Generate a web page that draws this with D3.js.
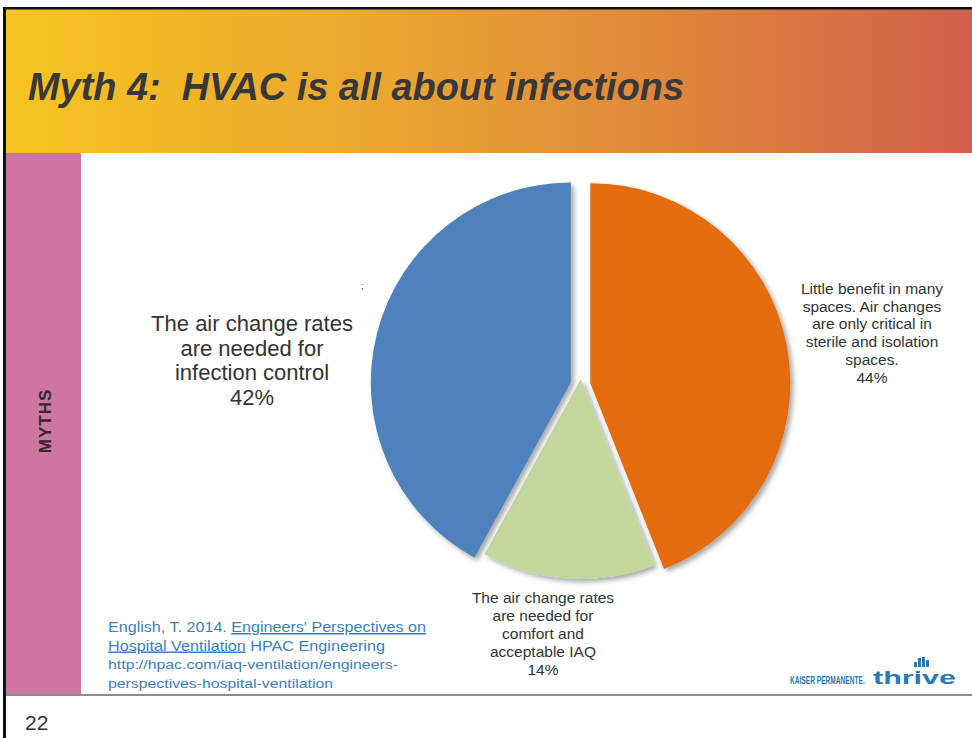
<!DOCTYPE html>
<html>
<head>
<meta charset="utf-8">
<script src="https://cdn.jsdelivr.net/npm/d3@7/dist/d3.min.js"></script>
<style>
  html, body { margin: 0; padding: 0; background: #ffffff; }
  svg { display: block; }
  text { font-family: "Liberation Sans", Arial, sans-serif; }
</style>
</head>
<body>
<svg id="chart" width="972" height="738"></svg>
<script>
// ---------------- DATA ----------------
const title = "Myth 4:  HVAC is all about infections";
const sideLabel = "MYTHS";
const pageNumber = "22";
const categories = [
  "Little benefit in many spaces. Air changes are only critical in sterile and isolation spaces.",
  "The air change rates are needed for comfort and acceptable IAQ",
  "The air change rates are needed for infection control"
];
const values = [44, 14, 42];
const labelLines = [
  ["Little benefit in many", "spaces. Air changes", "are only critical in", "sterile and isolation", "spaces."],
  ["The air change rates", "are needed for", "comfort and", "acceptable IAQ"],
  ["The air change rates", "are needed for", "infection control"]
];
const citationLines = [
  [{t: "English, T. 2014. ", u: false}, {t: "Engineers' Perspectives on", u: true}],
  [{t: "Hospital Ventilation", u: true}, {t: " HPAC Engineering", u: false}],
  [{t: "http://hpac.com/iaq-ventilation/engineers-", u: false}],
  [{t: "perspectives-hospital-ventilation", u: false}]
];

// ---------------- STYLE ----------------
const sliceColors = ["#e46c0a", "#c3d69b", "#4f81bd"];
const explode = [10, -6, 10];
const pieCenter = {x: 580.5, y: 385};
const radius = 200;
const labelStyle = [
  {x: 872, y: 294, size: 15.5, step: 17.7},
  {x: 543, y: 602.5, size: 15.5, step: 18},
  {x: 252, y: 331, size: 22, step: 24.7}
];

const svg = d3.select("#chart");
const defs = svg.append("defs");

const grad = defs.append("linearGradient").attr("id", "hdr").attr("x1", "0").attr("x2", "1").attr("y1", "0").attr("y2", "0");
[["0%", "#f6c421"], ["40%", "#eaa532"], ["70%", "#df853c"], ["100%", "#d25f4b"]].forEach(s =>
  grad.append("stop").attr("offset", s[0]).attr("stop-color", s[1]));

const shadow = defs.append("filter").attr("id", "shadow").attr("x", "-10%").attr("y", "-10%").attr("width", "130%").attr("height", "130%");
shadow.append("feDropShadow").attr("dx", 3).attr("dy", 3).attr("stdDeviation", 2.5)
  .attr("flood-color", "#000").attr("flood-opacity", 0.35);

// slide background / frame
svg.append("rect").attr("x", 0).attr("y", 0).attr("width", 972).attr("height", 738).attr("fill", "#ffffff");
svg.append("rect").attr("x", 6).attr("y", 9).attr("width", 966).attr("height", 144).attr("fill", "url(#hdr)");
svg.append("rect").attr("x", 6).attr("y", 153).attr("width", 75).attr("height", 541).attr("fill", "#cf75a1");
svg.append("rect").attr("x", 3).attr("y", 7).attr("width", 969).attr("height", 2.5).attr("fill", "#111");
svg.append("rect").attr("x", 3).attr("y", 7).attr("width", 3).attr("height", 731).attr("fill", "#111");
svg.append("line").attr("x1", 6).attr("x2", 972).attr("y1", 695).attr("y2", 695)
  .attr("stroke", "#8c8c8c").attr("stroke-width", 2);

// title
svg.append("text").attr("x", 28).attr("y", 100)
  .attr("font-size", 38).attr("font-weight", "bold").attr("font-style", "italic")
  .attr("fill", "#383838").attr("textLength", 656).attr("lengthAdjust", "spacingAndGlyphs")
  .style("white-space", "pre")
  .text(title);

// side label
svg.append("text")
  .attr("transform", "translate(51,421) rotate(-90)")
  .attr("text-anchor", "middle")
  .attr("font-family", "'Open Sans', sans-serif")
  .attr("font-size", 17).attr("font-weight", "bold").attr("letter-spacing", 1)
  .attr("fill", "#33262e")
  .text(sideLabel);

// page number
svg.append("text").attr("x", 25).attr("y", 730).attr("font-size", 21).attr("fill", "#333").text(pageNumber);

// ---------------- PIE ----------------
const pie = d3.pie().sort(null).value(d => d).startAngle(0).endAngle(2 * Math.PI);
const arcs = pie(values);
const arcGen = d3.arc().innerRadius(0).outerRadius(radius);

const g = svg.append("g");
g.selectAll("path.slice").data(arcs).join("path")
  .attr("class", "slice")
  .attr("d", arcGen)
  .attr("fill", (d, i) => sliceColors[i])
  .attr("filter", "url(#shadow)")
  .attr("transform", (d, i) => {
    const mid = (d.startAngle + d.endAngle) / 2;
    const dx = Math.sin(mid) * explode[i];
    const dy = -Math.cos(mid) * explode[i];
    return `translate(${pieCenter.x + dx},${pieCenter.y + dy})`;
  });

// labels
arcs.forEach((a, i) => {
  const st = labelStyle[i];
  const lines = labelLines[i].concat([d3.format(".0f")(a.value) + "%"]);
  const t = svg.append("text").attr("text-anchor", "middle").attr("font-size", st.size).attr("fill", "#333");
  lines.forEach((ln, k) => {
    t.append("tspan").attr("x", st.x).attr("y", st.y + k * st.step).text(ln);
  });
});

// stray mark
svg.append("text").attr("x", 361).attr("y", 289).attr("font-size", 9).attr("fill", "#333").text(";");

// ---------------- CITATION ----------------
const citeY = [632, 650.5, 669, 687.5];
const citeSize = [15, 15, 13.6, 13.6];
const citeLen = [318, 277, 290, 225];
citationLines.forEach((parts, k) => {
  const t = svg.append("text").attr("x", 108).attr("y", citeY[k])
    .attr("font-size", citeSize[k]).attr("fill", "#3b7fc2")
    .attr("textLength", citeLen[k]).attr("lengthAdjust", "spacingAndGlyphs");
  parts.forEach(p => {
    t.append("tspan").attr("text-decoration", p.u ? "underline" : null).text(p.t);
  });
});

// ---------------- LOGO ----------------
svg.append("text").attr("transform", "translate(790,684) scale(0.6,1)")
  .attr("font-size", 11).attr("font-weight", "bold").attr("fill", "#2b74ad")
  .text("KAISER PERMANENTE.");
svg.append("text").attr("x", 873).attr("y", 684)
  .attr("font-family", "'DejaVu Sans', sans-serif")
  .attr("font-size", 19).attr("font-weight", "bold").attr("fill", "#2b7ab6")
  .attr("textLength", 83).attr("lengthAdjust", "spacingAndGlyphs")
  .text("thrive");
const icon = svg.append("g").attr("fill", "#2b7ab6");
[[914, 662, 3, 5], [918, 658, 3, 9], [922, 657, 3, 10], [926, 660, 3, 7]].forEach(r =>
  icon.append("rect").attr("x", r[0]).attr("y", r[1]).attr("width", r[2]).attr("height", r[3]));
</script>
</body>
</html>
